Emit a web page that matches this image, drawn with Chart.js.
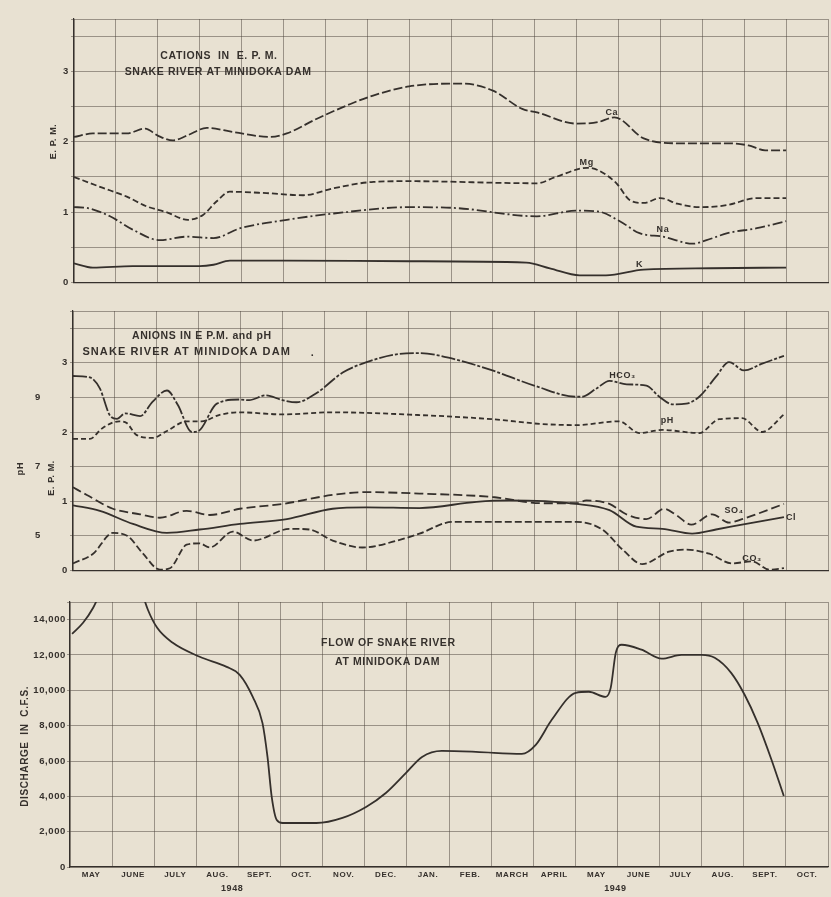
<!DOCTYPE html>
<html><head><meta charset="utf-8">
<script src="https://cdn.jsdelivr.net/npm/chart.js@4.4.1/dist/chart.umd.min.js"></script>
<style>
html,body{margin:0;padding:0;background:#e8e1d2;}
#wrap{position:relative;width:831px;height:897px;background:#e8e1d2;overflow:hidden;}
.p{position:absolute;left:0;width:831px;}
</style></head><body>
<div id="wrap">
<div class="p" style="top:0;height:290px"><canvas id="c1"></canvas></div>
<div class="p" style="top:290px;height:290px"><canvas id="c2"></canvas></div>
<div class="p" style="top:580px;height:317px"><canvas id="c3"></canvas></div>
</div>
<script>
// ---- categories / tick labels ----
const months = ['MAY','JUNE','JULY','AUG.','SEPT.','OCT.','NOV.','DEC.','JAN.','FEB.','MARCH','APRIL','MAY','JUNE','JULY','AUG.','SEPT.','OCT.'];
const years = ['1948','1949'];
const yearTickAt = [3.85, 12.95];
const epmTicks = [0, 1, 2, 3];
const phTicks = [5, 7, 9];
const flowTicks = [0, 2000, 4000, 6000, 8000, 10000, 12000, 14000];

// ---- cations (E.P.M.), x = months since start of May 1948 ----
const caX = [0,0.45,1.26,1.7,2.0,2.36,2.7,3.17,3.8,4.68,5.08,5.8,6.6,7.14,8.0,9.05,9.28,10.0,10.7,11.05,12.0,12.5,12.9,13.6,14.4,15.6,16.1,16.5,17.0];
const caY = [2.07,2.12,2.12,2.19,2.09,2.02,2.09,2.2,2.14,2.07,2.12,2.33,2.54,2.66,2.79,2.83,2.83,2.73,2.47,2.42,2.26,2.28,2.35,2.05,1.98,1.98,1.95,1.88,1.88];
const mgX = [0,0.62,1.26,1.74,2.2,2.72,3.08,3.4,3.72,4.6,5.47,6.2,7.15,8.0,11.05,11.5,12.25,12.5,12.95,13.27,13.6,14.0,14.4,14.95,15.6,16.3,17.0];
const mgY = [1.5,1.36,1.22,1.08,1.0,0.89,0.96,1.15,1.29,1.27,1.24,1.34,1.43,1.44,1.41,1.5,1.63,1.6,1.41,1.17,1.13,1.2,1.12,1.07,1.1,1.2,1.2];
const naX = [0,0.3,0.86,1.4,2.05,2.7,3.33,3.97,5.08,6.2,8.0,9.05,11.05,12.0,12.5,13.03,13.5,14.06,14.78,15.1,15.6,16.3,17.0];
const naY = [1.07,1.06,0.94,0.75,0.6,0.65,0.63,0.77,0.89,0.98,1.07,1.06,0.94,1.02,1.01,0.87,0.7,0.65,0.55,0.6,0.7,0.77,0.87];
const kX = [0,0.45,1.4,3.0,3.33,3.72,5.08,8.0,10.8,11.36,12.07,12.7,13.6,15.2,17.0];
const kY = [0.27,0.21,0.23,0.23,0.25,0.31,0.31,0.3,0.28,0.2,0.1,0.1,0.18,0.2,0.21];

// ---- anions (E.P.M.) and pH ----
const hco3X = [0,0.4,0.64,0.88,1.05,1.24,1.6,1.9,2.24,2.5,2.83,2.98,3.43,3.98,4.2,4.6,5.0,5.33,5.8,6.43,7.0,7.79,8.26,9.05,10.0,11.05,12.0,12.14,12.48,12.79,13.2,13.67,13.98,14.3,14.62,14.93,15.33,15.64,16.0,16.43,16.95];
const hco3Y = [2.81,2.79,2.63,2.24,2.19,2.27,2.23,2.44,2.6,2.39,2.0,2.01,2.41,2.47,2.46,2.53,2.46,2.43,2.56,2.86,3.01,3.13,3.14,3.06,2.89,2.66,2.51,2.51,2.63,2.74,2.69,2.67,2.51,2.4,2.41,2.51,2.8,3.01,2.89,2.99,3.1];
const phX = [0,0.4,0.7,1.1,1.28,1.52,1.9,2.24,2.71,3.07,3.48,3.95,5.0,6.19,8.26,10.0,11.19,12.0,13.02,13.5,14.05,14.93,15.4,15.95,16.43,16.95];
const phY = [7.8,7.8,8.11,8.31,8.26,7.91,7.83,8.03,8.31,8.31,8.49,8.57,8.51,8.57,8.49,8.37,8.23,8.2,8.31,7.97,8.06,7.97,8.37,8.4,8.0,8.51];
const so4X = [0,0.33,0.95,1.6,2.07,2.71,3.26,3.98,5.0,6.19,7.0,8.26,10.0,11.19,12.0,12.24,12.79,13.19,13.67,14.1,14.38,14.74,15.24,15.64,15.95,16.95];
const so4Y = [1.2,1.09,0.89,0.81,0.76,0.86,0.8,0.89,0.96,1.09,1.13,1.11,1.06,0.97,0.97,1.01,0.96,0.81,0.74,0.89,0.8,0.66,0.81,0.69,0.74,0.96];
const clX = [0,0.64,1.43,2.24,3.02,3.98,5.1,6.19,7.0,8.26,9.62,10.4,12.0,12.79,13.43,14.05,14.76,15.33,15.95,16.95];
const clY = [0.94,0.86,0.67,0.54,0.59,0.67,0.74,0.89,0.91,0.9,0.99,1.01,0.96,0.87,0.63,0.6,0.53,0.59,0.66,0.77];
const co3X = [0,0.48,0.95,1.29,1.67,2.07,2.31,2.71,3.02,3.26,3.81,4.29,5.17,5.64,6.19,6.9,7.79,8.26,9.05,12.0,12.62,13.1,13.57,14.21,14.62,15.17,15.71,16.19,16.6,16.95];
const co3Y = [0.1,0.24,0.54,0.5,0.24,0.01,0.03,0.37,0.39,0.33,0.56,0.43,0.6,0.59,0.43,0.33,0.44,0.53,0.7,0.7,0.59,0.3,0.09,0.27,0.3,0.24,0.1,0.13,0.01,0.03];

// ---- flow (c.f.s.); null = off-scale peak ----
const flowX = [0.05,0.31,0.55,0.75,1.2,1.65,1.85,2.07,2.44,3.08,3.72,4.03,4.34,4.57,4.69,4.79,4.91,5.05,5.85,6.47,7.03,7.5,7.98,8.36,8.83,9.64,10.73,11.06,11.44,12.01,12.32,12.72,12.84,12.96,13.1,13.57,14.05,14.52,15.0,15.31,15.7,16.02,16.33,16.66,16.95];
const flowY = [13200,13825,14675,15700,null,16000,14560,13540,12690,11900,11330,10880,9630,8160,6230,3970,2660,2490,2490,2780,3400,4190,5330,6230,6570,6520,6400,6910,8330,9860,9920,9630,10140,12120,12580,12300,11790,12010,12010,11840,10990,9750,8160,6060,4020];

// ---- styling ----
const INK = '#35302c';
const GRID = 'rgba(75,68,60,0.5)';
const FONT = '"Liberation Sans", Arial, sans-serif';
const tickFont = {family: FONT, size: 9.5, weight: 'bold'};
const titleFont = {family: FONT, size: 9, weight: 'bold'};

const spacing = {
  id: 'spacing',
  beforeLayout(chart) { chart.ctx.letterSpacing = '0.6px'; },
  beforeDraw(chart) { chart.ctx.letterSpacing = '0.6px'; }
};

const pts = (xs, ys) => xs.map((x, i) => ({x, y: ys[i]}));
function series(label, xs, ys, dash, axis) {
  return {label, data: pts(xs, ys), yAxisID: axis || 'y', borderColor: INK, borderWidth: 1.8, borderDash: dash,
    pointRadius: 0, cubicInterpolationMode: 'monotone', fill: false, spanGaps: false};
}

function monthAxis(showLabels) {
  return {
    type: 'linear', min: 0, max: 18, position: 'bottom', weight: 0,
    afterBuildTicks: ax => {
      const t = [];
      for (let i = 0; i <= months.length; i++) {
        t.push({value: i});
        if (showLabels && i < months.length) t.push({value: i + 0.5});
      }
      ax.ticks = t;
    },
    afterFit: s => { s.height = showLabels ? 13 : 0; },
    ticks: {display: showLabels, autoSkip: false, maxRotation: 0, minRotation: 0, padding: 3,
      color: INK, font: {family: FONT, size: 8, weight: 'bold'},
      callback: v => Number.isInteger(v) ? '' : months[Math.floor(v)]},
    grid: {drawTicks: false, lineWidth: 1,
      color: c => (c.tick && !Number.isInteger(c.tick.value)) ? 'rgba(0,0,0,0)' : GRID},
    border: {color: INK, width: 1.2}
  };
}

function epmAxis(width, titleText, titlePad) {
  return {
    type: 'linear', position: 'left', min: 0, max: 3.75, weight: 0,
    afterBuildTicks: ax => {
      const t = [];
      for (let v = 0; v <= 3.5; v += 0.5) t.push({value: v});
      t.push({value: 3.75});
      ax.ticks = t;
    },
    afterFit: s => { s.width = width; },
    ticks: {color: INK, font: tickFont, padding: 2, autoSkip: false,
      callback: v => epmTicks.includes(v) ? String(v) : ''},
    grid: {color: GRID, tickLength: 3, lineWidth: 1},
    border: {color: INK, width: 1.2},
    title: {display: true, text: titleText, color: INK, font: titleFont, padding: {top: titlePad, bottom: 0}}
  };
}

const notes = {
  id: 'notes',
  afterDatasetsDraw(chart, args, opts) {
    const {ctx} = chart;
    const xs = chart.scales.x;
    ctx.save();
    ctx.fillStyle = INK;
    ctx.textBaseline = 'middle';
    for (const n of opts.items) {
      const ys = chart.scales[n.axis || 'y'];
      ctx.font = 'bold ' + (n.size || 9) + 'px ' + FONT;
      ctx.letterSpacing = (n.ls || 0.6) + 'px';
      ctx.textAlign = n.align || 'center';
      ctx.fillText(n.text, xs.getPixelForValue(n.x), ys.getPixelForValue(n.y));
    }
    ctx.restore();
  }
};

const base = {
  responsive: true, maintainAspectRatio: false, animation: false,
  plugins: {legend: {display: false}, tooltip: {enabled: false}}
};

// ---- chart 1: cations ----
new Chart(document.getElementById('c1'), {
  type: 'line',
  data: {datasets: [
    series('Ca', caX, caY, [9, 3]),
    series('Mg', mgX, mgY, [6, 3]),
    series('Na', naX, naY, [10, 3, 2, 3]),
    series('K', kX, kY, [])
  ]},
  options: Object.assign({}, base, {
    layout: {padding: {top: 19, right: 3, bottom: 7, left: 0}},
    scales: {x: monthAxis(false), y: epmAxis(74, '      E. P. M.', 48)},
    plugins: Object.assign({}, base.plugins, {notes: {items: [
      {text: 'CATIONS  IN  E. P. M.', x: 3.46, y: 3.22, size: 10.5},
      {text: 'SNAKE RIVER AT MINIDOKA DAM', x: 3.44, y: 3.0, size: 10.5},
      {text: 'Ca', x: 12.84, y: 2.42},
      {text: 'Mg', x: 12.24, y: 1.70},
      {text: 'Na', x: 14.06, y: 0.75},
      {text: 'K', x: 13.5, y: 0.25}
    ]}})
  }),
  plugins: [spacing, notes]
});

// ---- chart 2: anions and pH ----
new Chart(document.getElementById('c2'), {
  type: 'line',
  data: {datasets: [
    series('HCO3', hco3X, hco3Y, [14, 2, 3, 2]),
    series('pH', phX, phY, [5, 3], 'yPH'),
    series('SO4', so4X, so4Y, [9, 4]),
    series('Cl', clX, clY, []),
    series('CO3', co3X, co3Y, [7, 3])
  ]},
  options: Object.assign({}, base, {
    layout: {padding: {top: 21, right: 3, bottom: 6, left: 0}},
    scales: {
      x: monthAxis(false),
      yPH: {type: 'linear', position: 'left', min: 4, max: 11.5, weight: 1,
        afterBuildTicks: ax => { ax.ticks = phTicks.map(v => ({value: v})); },
        afterFit: s => { s.width = 45; },
        ticks: {color: INK, font: tickFont, padding: 4},
        grid: {display: false, drawTicks: false},
        border: {display: false},
        title: {display: true, text: 'pH                  ', color: INK, font: titleFont, padding: {top: 15, bottom: 0}}
      },
      y: epmAxis(28, 'E. P. M.                        ', 1)
    },
    plugins: Object.assign({}, base.plugins, {notes: {items: [
      {text: 'ANIONS IN E P.M. and pH', x: 3.07, y: 3.39, size: 10.5},
      {text: 'SNAKE RIVER AT MINIDOKA DAM', x: 2.71, y: 3.16, size: 11, ls: 1.1},
      {text: '.', x: 5.71, y: 3.14, size: 11},
      {text: 'HCO\u2083', x: 13.1, y: 2.81},
      {text: 'pH', x: 14.17, y: 2.16},
      {text: 'SO\u2084', x: 15.76, y: 0.87},
      {text: 'Cl', x: 17.12, y: 0.77},
      {text: 'CO\u2083', x: 16.19, y: 0.17}
    ]}})
  }),
  plugins: [spacing, notes]
});

// ---- chart 3: flow ----
new Chart(document.getElementById('c3'), {
  type: 'line',
  data: {datasets: [series('Flow', flowX, flowY, [])]},
  options: Object.assign({}, base, {
    layout: {padding: {top: 22, right: 3, bottom: 0, left: 0}},
    scales: {
      x: monthAxis(true),
      xYear: {type: 'linear', min: 0, max: 18, position: 'bottom', weight: 1,
        afterBuildTicks: ax => { ax.ticks = yearTickAt.map(v => ({value: v})); },
        afterFit: s => { s.height = 17; },
        ticks: {autoSkip: false, maxRotation: 0, minRotation: 0, padding: 3, color: INK,
          font: {family: FONT, size: 9, weight: 'bold'}, callback: (v, i) => years[i]},
        grid: {display: false, drawTicks: false},
        border: {display: false}
      },
      y: {type: 'linear', position: 'left', min: 0, max: 15000,
        afterBuildTicks: ax => { ax.ticks = flowTicks.concat([15000]).map(v => ({value: v})); },
        afterFit: s => { s.width = 70; },
        ticks: {color: INK, font: tickFont, padding: 1, autoSkip: false,
          callback: v => flowTicks.includes(v) ? v.toLocaleString('en-US') : ''},
        grid: {color: GRID, tickLength: 3, lineWidth: 1},
        border: {color: INK, width: 1.2},
        title: {display: true, text: 'DISCHARGE  IN  C.F.S.       ', color: INK,
          font: {family: FONT, size: 10, weight: 'bold'}, padding: {top: 19, bottom: 0}}
      }
    },
    plugins: Object.assign({}, base.plugins, {notes: {items: [
      {text: 'FLOW OF SNAKE RIVER', x: 7.56, y: 12690, size: 10.5},
      {text: 'AT MINIDOKA DAM', x: 7.54, y: 11620, size: 10.5}
    ]}})
  }),
  plugins: [spacing, notes]
});
</script>
</body></html>
